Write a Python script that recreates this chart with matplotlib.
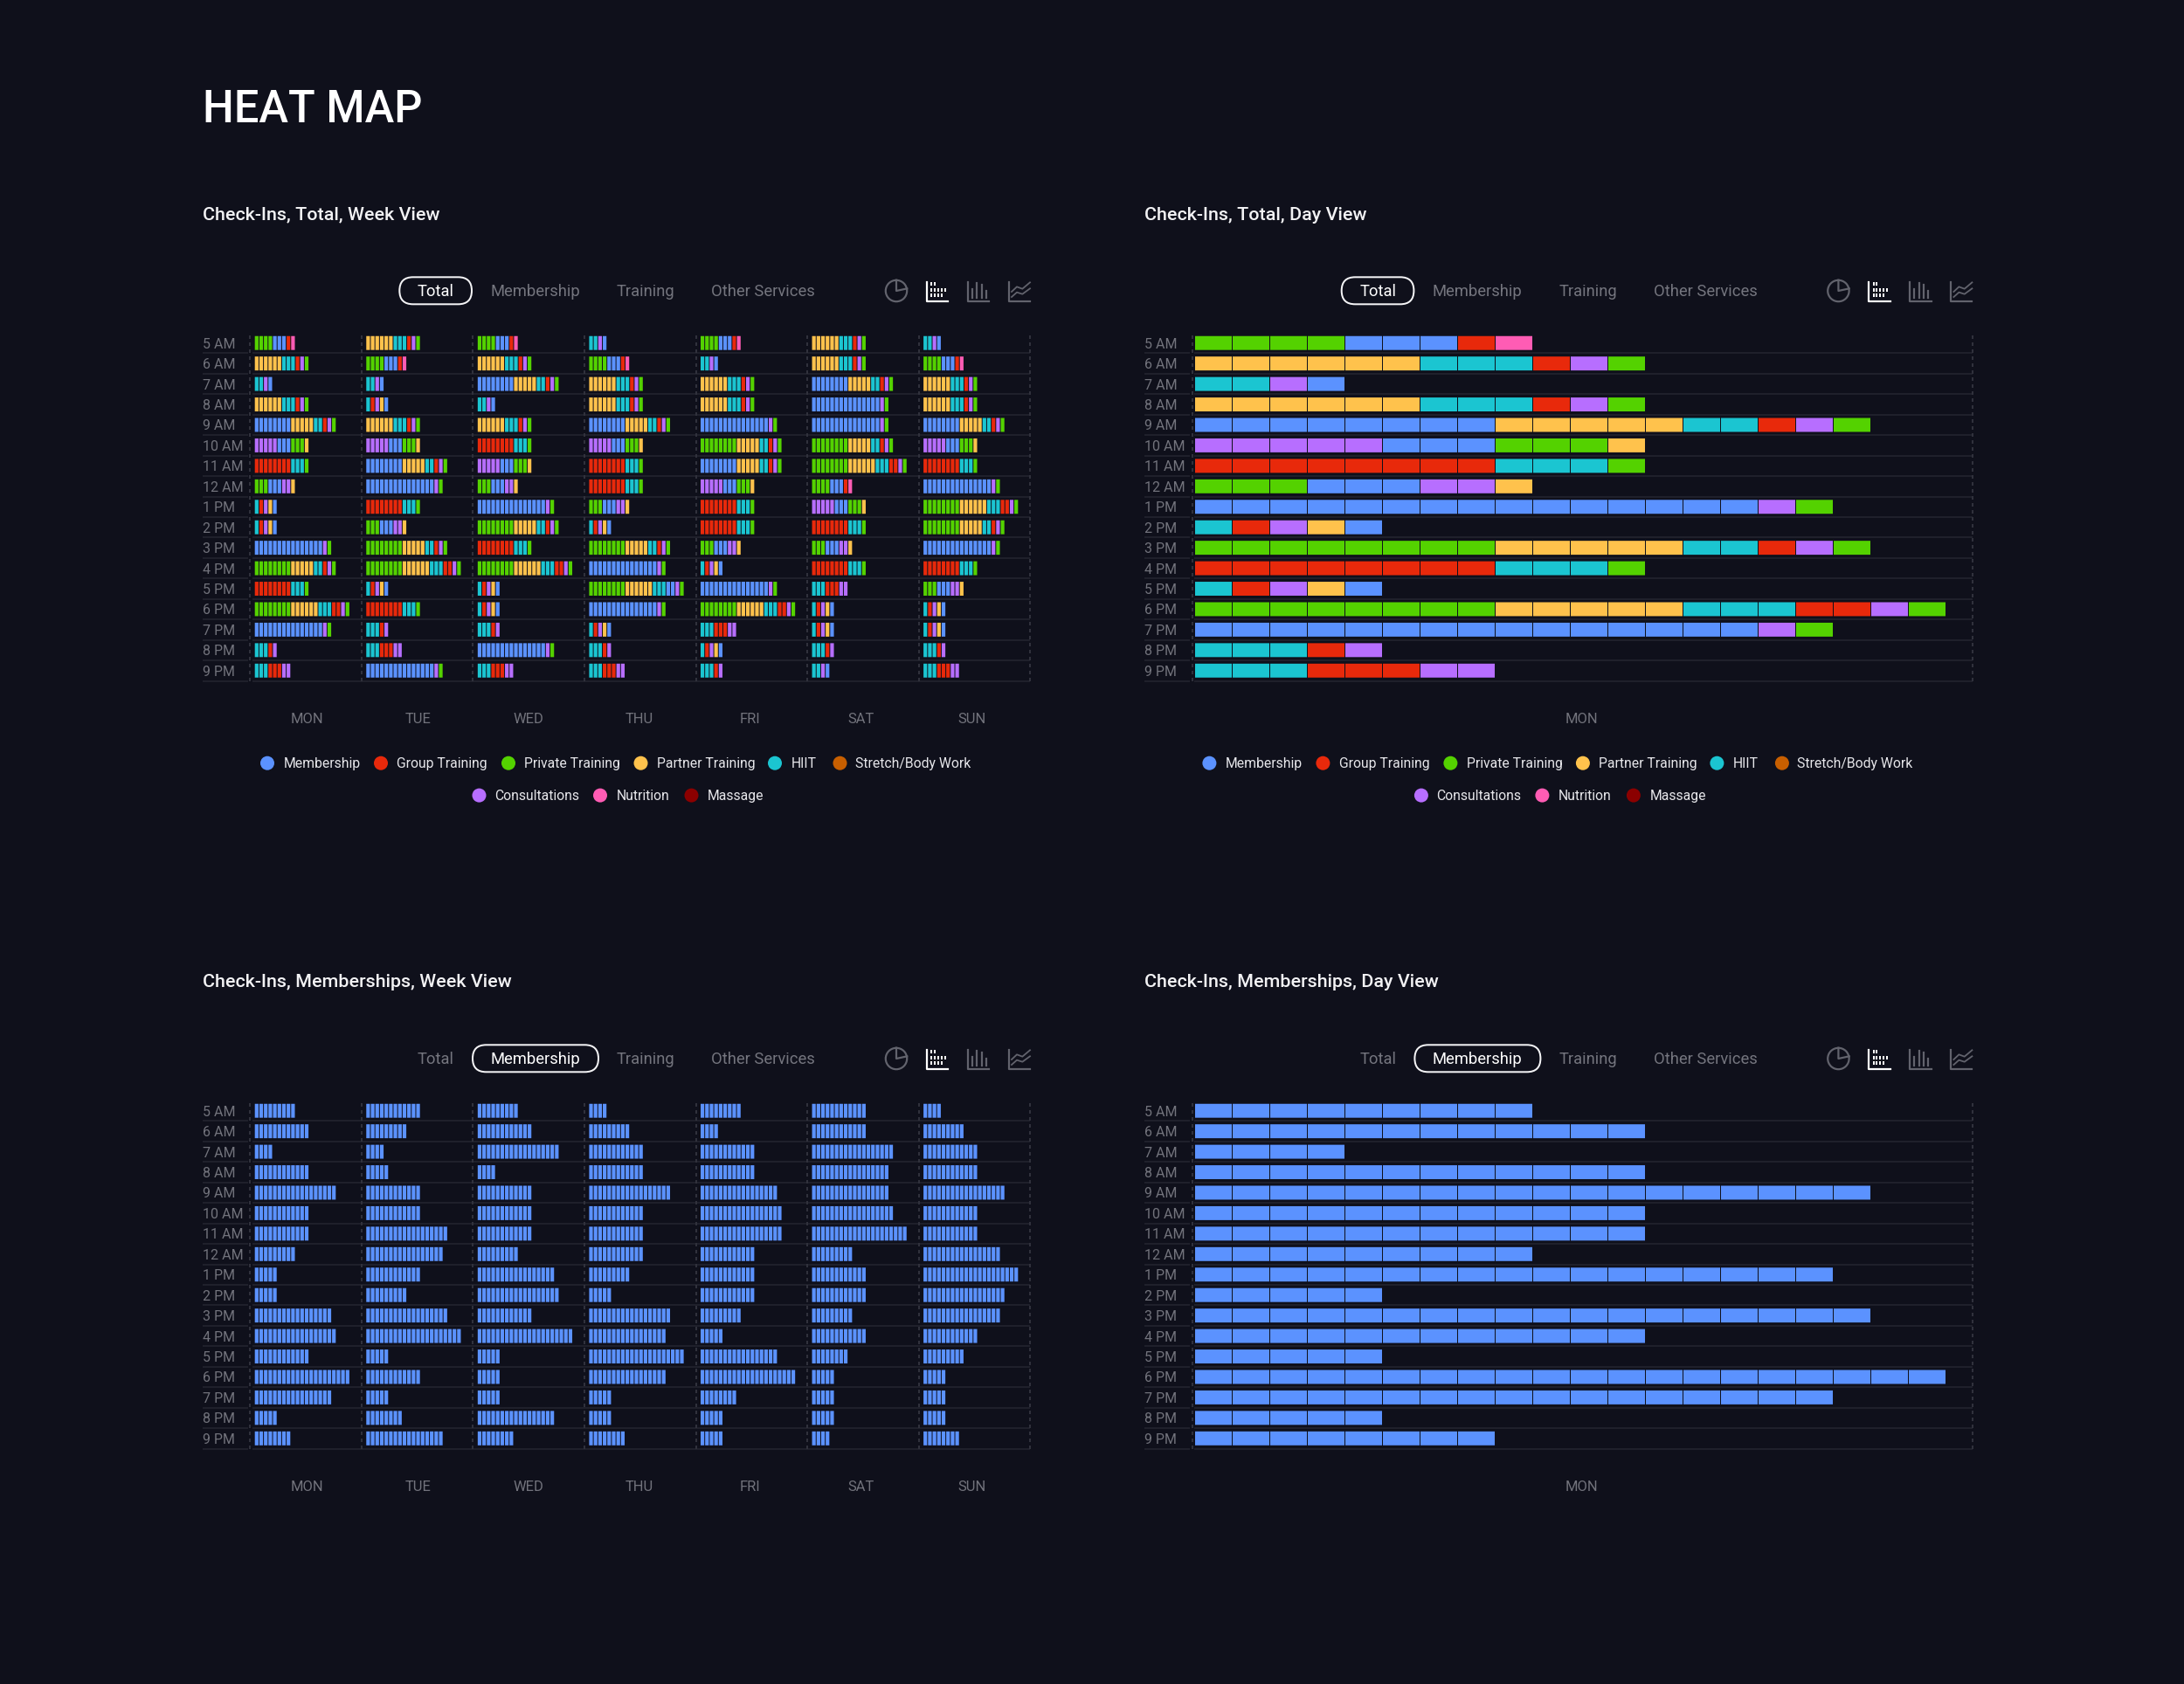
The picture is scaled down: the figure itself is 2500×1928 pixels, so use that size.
import matplotlib
matplotlib.use("Agg")
import matplotlib.pyplot as plt
from matplotlib.patches import FancyBboxPatch, Circle, Rectangle

# ---------- data ----------
HOURS = ["5 AM","6 AM","7 AM","8 AM","9 AM","10 AM","11 AM","12 AM","1 PM","2 PM","3 PM","4 PM","5 PM","6 PM","7 PM","8 PM","9 PM"]
DAYS = ["MON","TUE","WED","THU","FRI","SAT","SUN"]
SERVICES = ["Membership","Group Training","Private Training","Partner Training","HIIT","Stretch/Body Work","Consultations","Nutrition","Massage"]
SERVICE_COLORS = ["#5B92FF","#E8290B","#54D200","#FFC24C","#1BC5D1","#C85F00","#B76EFF","#FF5CB4","#8B0000"]
CODE = {"B":0,"R":1,"G":2,"Y":3,"T":4,"O":5,"P":6,"K":7,"M":8}

# each string: one letter per check-in block, by service code
MON = ["GGGGBBBRK","YYYYYYTTTRPG","TTPB","YYYYYYTTTRPG","BBBBBBBBYYYYYTTRPG","PPPPPBBBGGGY","RRRRRRRRTTTG","GGGBBBPPY","TRPYB","TRPYB","BBBBBBBBBBBBBBBPG","GGGGGGGGYYYYYTTRPG","RRRRRRRRTTTG","GGGGGGGGYYYYYYTTTRRPG","BBBBBBBBBBBBBBBPG","TTTRP","TTTRRRPP"]
TUE = ["YYYYYYTTTRPG","GGGGBBBRK","TTPB","TRPYB","YYYYYYTTTRPG","PPPPPBBBGGGY","BBBBBBBBYYYYYTTRPG","BBBBBBBBBBBBBBBPG","RRRRRRRRTTTG","GGGBBBPPY","GGGGGGGGYYYYYTTRPG","GGGGGGGGYYYYYYTTTRRPG","TRPYB","RRRRRRRRTTTG","TTTRP","TTTRRRPP","BBBBBBBBBBBBBBBPG"]
WED = ["GGGGBBBRK","YYYYYYTTTRPG","BBBBBBBBYYYYYTTRPG","TTPB","YYYYYYTTTRPG","RRRRRRRRTTTG","PPPPPBBBGGGY","GGGBBBPPY","BBBBBBBBBBBBBBBPG","GGGGGGGGYYYYYTTRPG","RRRRRRRRTTTG","GGGGGGGGYYYYYYTTTRRPG","TRPYB","TRPYB","TTTRP","BBBBBBBBBBBBBBBPG","TTTRRRPP"]
THU = ["TTPB","GGGGBBBRK","YYYYYYTTTRPG","YYYYYYTTTRPG","BBBBBBBBYYYYYTTRPG","PPPPPBBBGGGY","RRRRRRRRTTTG","RRRRRRRRTTTG","GGGBBBPPY","TRPYB","GGGGGGGGYYYYYTTRPG","BBBBBBBBBBBBBBBPG","GGGGGGGGYYYYYYTTTBBPG","BBBBBBBBBBBBBBBPG","TRPYB","TTTRP","TTTRRRPP"]
FRI = ["GGGGBBBRK","TTPB","YYYYYYTTTRPG","YYYYYYTTTRPG","BBBBBBBBBBBBBBBPG","GGGGGGGGYYYYYTTRPG","BBBBBBBBYYYYYTTRPG","PPPPPBBBGGGY","RRRRRRRRTTTG","RRRRRRRRTTTG","GGGBBBPPY","TRPYB","BBBBBBBBBBBBBBBPG","GGGGGGGGYYYYYYTTTRRPG","TTTRRRPP","TRPYB","TTTRP"]
SAT = ["YYYYYYTTTRPG","YYYYYYTTTRPG","BBBBBBBBYYYYYTTRPG","BBBBBBBBBBBBBBBPG","BBBBBBBBBBBBBBBPG","GGGGGGGGYYYYYTTRPG","GGGGGGGGYYYYYYTTTRRPG","GGGGBBBRK","PPPPPBBBGGGY","RRRRRRRRTTTG","GGGBBBPPY","RRRRRRRRTTTG","TTTRRRPP","TRPYB","TRPYB","TTTRP","TTPB"]
SUN = ["TTPB","GGGGBBBRK","YYYYYYTTTRPG","YYYYYYTTTRPG","BBBBBBBBYYYYYTTRPG","PPPPPBBBGGGY","RRRRRRRRTTTG","BBBBBBBBBBBBBBBPG","GGGGGGGGYYYYYYTTTRRPG","GGGGGGGGYYYYYTTRPG","BBBBBBBBBBBBBBBPG","RRRRRRRRTTTG","GGGBBBPPY","TRPYB","TRPYB","TTTRP","TTTRRRPP"]
WEEK_TOTAL = [MON,TUE,WED,THU,FRI,SAT,SUN]
DAY_TOTAL = ["GGGGBBBRK","YYYYYYTTTRPG","TTPB","YYYYYYTTTRPG","BBBBBBBBYYYYYTTRPG","PPPPPBBBGGGY","RRRRRRRRTTTG","GGGBBBPPY","BBBBBBBBBBBBBBBPG","TRPYB","GGGGGGGGYYYYYTTRPG","RRRRRRRRTTTG","TRPYB","GGGGGGGGYYYYYTTTRRPG","BBBBBBBBBBBBBBBPG","TTTRP","TTTRRRPP"]

MON_M = [9,12,4,12,18,12,12,9,5,5,17,18,12,21,17,5,8]
TUE_M = [12,9,4,5,12,12,18,17,12,9,18,21,5,12,5,8,17]
WED_M = [9,12,18,4,12,12,12,9,17,18,12,21,5,5,5,17,8]
THU_M = [4,9,12,12,18,12,12,12,9,5,18,17,21,17,5,5,8]
FRI_M = [9,4,12,12,17,18,18,12,12,12,9,5,17,21,8,5,5]
SAT_M = [12,12,18,17,17,18,21,9,12,12,9,12,8,5,5,5,4]
SUN_M = [4,9,12,12,18,12,12,17,21,18,17,12,9,5,5,5,8]
WEEK_MEMBER = [MON_M,TUE_M,WED_M,THU_M,FRI_M,SAT_M,SUN_M]
DAY_MEMBER = [9,12,4,12,18,12,12,9,17,5,18,12,5,20,17,5,8]
TABS = ["Total","Membership","Training","Other Services"]

# ---------- style ----------
BG = "#0F101B"
GRID = "#1F202B"
DOT = "#30313C"
MUTED = "#74757E"
ICON = "#62636D"
LABEL = "#72737C"
plt.rcParams["font.family"] = ["Roboto","DejaVu Sans"]
px = lambda v: v*72/100

W, H = 2500, 1928
fig = plt.figure(figsize=(W/100, H/100), dpi=100, facecolor=BG)

# overlay for page furniture, in pixel units
deco = fig.add_axes([0,0,1,1], zorder=5)
deco.set_xlim(0,W); deco.set_ylim(H,0); deco.axis("off"); deco.patch.set_alpha(0)

DX, DY = 1078.4, 879
AX_L, AX_R, AX_T, AX_B = 286.3, 1179.3, 381.0, 779.5
WK_PITCH, WK_BAR = 5.2, 4.2
DY_PITCH, DY_BAR = 43.0, 42.0
WK_DAY = 127.57
BAR_H = 0.68

def make_axes(ox, oy):
    l, r, t, b = AX_L+ox, AX_R+ox, AX_T+oy, AX_B+oy
    ax = fig.add_axes([l/W, 1-b/H, (r-l)/W, (b-t)/H], zorder=2)
    ax.set_facecolor("none")
    for s in ax.spines.values():
        s.set_visible(False)
    ax.set_ylim(len(HOURS), 0)
    ax.set_yticks([i+0.5 for i in range(len(HOURS))], HOURS)
    ax.tick_params(axis="both", length=0, labelcolor=LABEL)
    ax.tick_params(axis="y", pad=px(54.3), labelsize=px(16))
    for t_ in ax.get_yticklabels():
        t_.set_horizontalalignment("left")
    ax.tick_params(axis="x", pad=px(36.5), labelsize=px(16.5))
    tr = ax.get_yaxis_transform()
    width = r-l
    for i in range(1, len(HOURS)+1):
        ax.hlines(i, (232-AX_L)/width, (283.5-AX_L)/width, transform=tr, color=GRID, lw=px(2), clip_on=False, zorder=1)
        ax.hlines(i, 2.2/width, 1, transform=tr, color=GRID, lw=px(2), clip_on=False, zorder=1)
    return ax

def vdots(ax, xs):
    for x in xs:
        ax.axvline(x, color=DOT, lw=px(2), ls=(0,(2,2)), zorder=1.5, clip_on=False)

def week_panel(ox, oy, rows_of):
    ax = make_axes(ox, oy)
    cells = WK_DAY/WK_PITCH
    ax.set_xlim(0, (AX_R-AX_L)/WK_PITCH)
    vdots(ax, [d*cells for d in range(8)])
    start = 5.4/WK_PITCH
    for d in range(len(DAYS)):
        x0 = d*cells + start
        for r, c, colr in rows_of(d):
            ax.barh(r+0.5, WK_BAR/WK_PITCH, left=x0+c, height=BAR_H, color=colr, lw=0, zorder=3, snap=False)
    ax.set_xticks([(65.5+126.7*d)/WK_PITCH for d in range(len(DAYS))], DAYS)

def day_panel(ox, oy, rows):
    ax = make_axes(ox, oy)
    ax.set_xlim(0, (AX_R-AX_L)/DY_PITCH)
    vdots(ax, [0, (AX_R-AX_L)/DY_PITCH])
    start = 3.3/DY_PITCH
    for r, c, colr in rows:
        ax.barh(r+0.5, DY_BAR/DY_PITCH, left=start+c, height=BAR_H, color=colr, lw=0, zorder=3, snap=False)
    ax.set_xticks([(AX_R-AX_L)/2/DY_PITCH - 1.0/DY_PITCH], ["MON"])

def total_rows_week(d):
    return [(r, c, SERVICE_COLORS[CODE[ch]]) for r, s in enumerate(WEEK_TOTAL[d]) for c, ch in enumerate(s)]
def member_rows_week(d):
    return [(r, c, SERVICE_COLORS[0]) for r, n in enumerate(WEEK_MEMBER[d]) for c in range(n)]

def tabs(ox, oy, active):
    xs = {"Total":(498.7 if active==0 else 499), "Membership":612.5, "Training":739, "Other Services":873.5}
    pills = {0:(457.3,540.0), 1:(541,685)}
    for i, name in enumerate(TABS):
        deco.text(xs[name]+ox, 334+oy, name, color="white" if i==active else MUTED,
                  fontsize=px(18.4), ha="center", va="center")
    a, b = pills[active]
    deco.add_patch(FancyBboxPatch((a+ox, 317.3+oy), b-a, 31, boxstyle="round,pad=0,rounding_size=15.5",
                                  fc="none", ec="#F4F4F6", lw=px(2)))

def icons(ox, oy):
    X = lambda z: z/3+980+ox
    Y = lambda z: z/3+300+oy
    lw = px(2.2)
    deco.add_patch(Circle((X(138),Y(99)), 12.2, fc="none", ec=ICON, lw=lw))
    deco.plot([X(138),X(138),X(175)],[Y(62),Y(99),Y(91)], color=ICON, lw=lw)
    deco.plot([X(242),X(242),X(316)],[Y(68),Y(134),Y(134)], color="white", lw=lw)
    for yy, cols in [(75,(259,270)),(95,(259,270,281,294,306)),(115,(259,270,281,294))]:
        for xx in cols:
            deco.add_patch(Rectangle((X(xx)-1,Y(yy)-2), 2, 4, fc="white", lw=0))
    deco.plot([X(383),X(383),X(457)],[Y(68),Y(134),Y(134)], color=ICON, lw=lw)
    for xx, top in [(399,92),(415,72),(431,78),(447,100)]:
        deco.plot([X(xx),X(xx)],[Y(top),Y(124)], color=ICON, lw=lw)
    deco.plot([X(524),X(524),X(597)],[Y(68),Y(134),Y(134)], color=ICON, lw=lw)
    deco.plot([X(534),X(552),X(571),X(597)],[Y(102),Y(85),Y(92),Y(70)], color=ICON, lw=px(1.8))
    deco.plot([X(534),X(552),X(571),X(597)],[Y(120),Y(104),Y(110),Y(91)], color=ICON, lw=px(1.8))

LEG1 = [(0,306.0,324.5),(1,436.0,454.5),(2,582.0,600.3),(3,733.5,752),(4,887.0,905.5),(5,961.5,979)]
LEG2 = [(6,548.5,566),(7,687.0,705.5),(8,791.5,810)]
def legend(ox):
    for row, y in ((LEG1,874.7),(LEG2,911.6)):
        for idx, xd, xt in row:
            deco.add_patch(Circle((xd+ox, y-1), 8, fc=SERVICE_COLORS[idx], lw=0))
            deco.text(xt+ox, y, SERVICES[idx], color="#E6E6EA", fontsize=px(15.8), ha="left", va="center")

# ---------- page ----------
deco.text(232, 126.5, "HEAT MAP", color="white", fontsize=px(50.5), ha="left", va="center", fontweight="medium")
TITLES = [("Check-Ins, Total, Week View",0,0),("Check-Ins, Total, Day View",DX,0),
          ("Check-Ins, Memberships, Week View",0,DY),("Check-Ins, Memberships, Day View",DX,DY)]
for t, ox, oy in TITLES:
    deco.text(232+ox, 246+oy, t, color="#F2F2F4", fontsize=px(21.5), ha="left", va="center", fontweight="medium")

week_panel(0, 0, total_rows_week)
day_panel(DX, 0, [(r,c,SERVICE_COLORS[CODE[ch]]) for r,s in enumerate(DAY_TOTAL) for c,ch in enumerate(s)])
week_panel(0, DY, member_rows_week)
day_panel(DX, DY, [(r,c,SERVICE_COLORS[0]) for r,n in enumerate(DAY_MEMBER) for c in range(n)])

tabs(0,0,0); tabs(DX,0,0); tabs(0,DY,1); tabs(DX,DY,1)
for ox, oy in [(0,0),(DX,0),(0,DY),(DX,DY)]:
    icons(ox, oy)
legend(0); legend(DX)

fig.savefig("out.png", dpi=100, facecolor=BG)
